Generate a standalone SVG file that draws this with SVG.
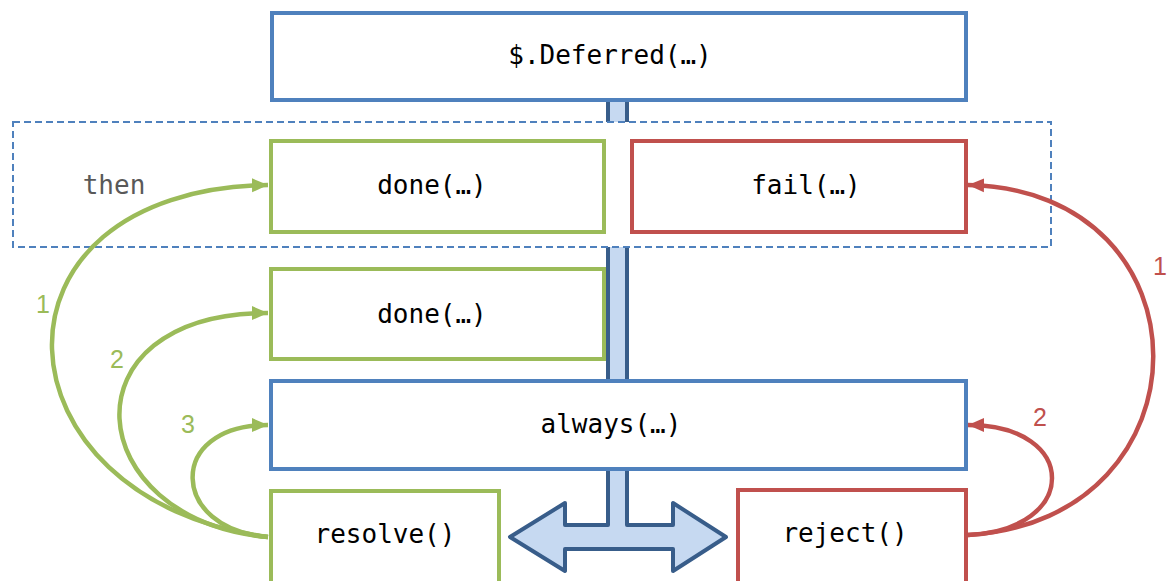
<svg xmlns="http://www.w3.org/2000/svg" width="1169" height="581" viewBox="0 0 1169 581">
<style>
.box{fill:#fff;stroke-width:4}
.blue{stroke:#4F81BD}
.green{stroke:#9BBB59}
.red{stroke:#C0504D}
.code{font-family:"DejaVu Sans Mono","Liberation Mono",monospace;font-size:26px;fill:#000;text-anchor:middle}
.num{font-family:"Liberation Sans","Open Sans",sans-serif;font-size:25px;text-anchor:middle}
.cg{fill:none;stroke:#9BBB59;stroke-width:4.5;marker-end:url(#ag)}
.cr{fill:none;stroke:#C0504D;stroke-width:4.5;marker-end:url(#ar)}
</style>
<defs>
<marker id="ag" markerUnits="userSpaceOnUse" markerWidth="18" markerHeight="16" refX="16" refY="8" orient="auto"><path d="M0,1 L16,8 L0,15 Z" fill="#9BBB59"/></marker>
<marker id="ar" markerUnits="userSpaceOnUse" markerWidth="18" markerHeight="16" refX="16" refY="8" orient="auto"><path d="M0,1 L16,8 L0,15 Z" fill="#C0504D"/></marker>
</defs>
<rect width="1169" height="581" fill="#fff"/>
<g id="spine">
<path d="M608,100 L608,525 L565,525 L565,503 L510,537 L565,571 L565,549 L673,549 L673,571 L726,537 L673,503 L673,525 L627,525 L627,100 Z" fill="#C6D9F1" stroke="#385D8A" stroke-width="4" stroke-linejoin="round"/>
</g>
<g id="then-group">
<rect x="13" y="122" width="1038" height="125" fill="#fff" stroke="#4F81BD" stroke-width="2" stroke-dasharray="7 4"/>
<text x="114" y="194" class="code" style="fill:#595959">then</text>
</g>
<g id="deferred"><rect class="box blue" x="272" y="13" width="694" height="87"/><text class="code" x="610" y="64">$.Deferred(…)</text></g>
<g id="done1"><rect class="box green" x="271" y="141" width="333" height="91"/><text class="code" x="432" y="194">done(…)</text></g>
<g id="fail"><rect class="box red" x="632" y="141" width="334" height="91"/><text class="code" x="806" y="194">fail(…)</text></g>
<g id="done2"><rect class="box green" x="271" y="269" width="333" height="90"/><text class="code" x="432" y="323">done(…)</text></g>
<g id="always"><rect class="box blue" x="271" y="381" width="695" height="88"/><text class="code" x="611" y="433">always(…)</text></g>
<g id="resolve"><rect class="box green" x="271" y="491" width="228" height="110"/><text class="code" x="385" y="543">resolve()</text></g>
<g id="reject"><rect class="box red" x="738" y="490" width="228" height="110"/><text class="code" x="845" y="542">reject()</text></g>
<g id="connectors">
<path class="cg" d="M268,537 C-10,500 -30,190 268,185"/>
<path class="cg" d="M268,537 C80,520 60,313 268,313"/>
<path class="cg" d="M268,537 C170,530 165,425 268,425"/>
<path class="cr" d="M968,535 C1215,520 1215,190 968,185"/>
<path class="cr" d="M968,535 C1080,530 1080,425 968,425"/>
<text class="num" x="43" y="313" fill="#9BBB59">1</text>
<text class="num" x="117" y="368" fill="#9BBB59">2</text>
<text class="num" x="188" y="433" fill="#9BBB59">3</text>
<text class="num" x="1160" y="275" fill="#C0504D">1</text>
<text class="num" x="1040" y="426" fill="#C0504D">2</text>
</g>
</svg>
